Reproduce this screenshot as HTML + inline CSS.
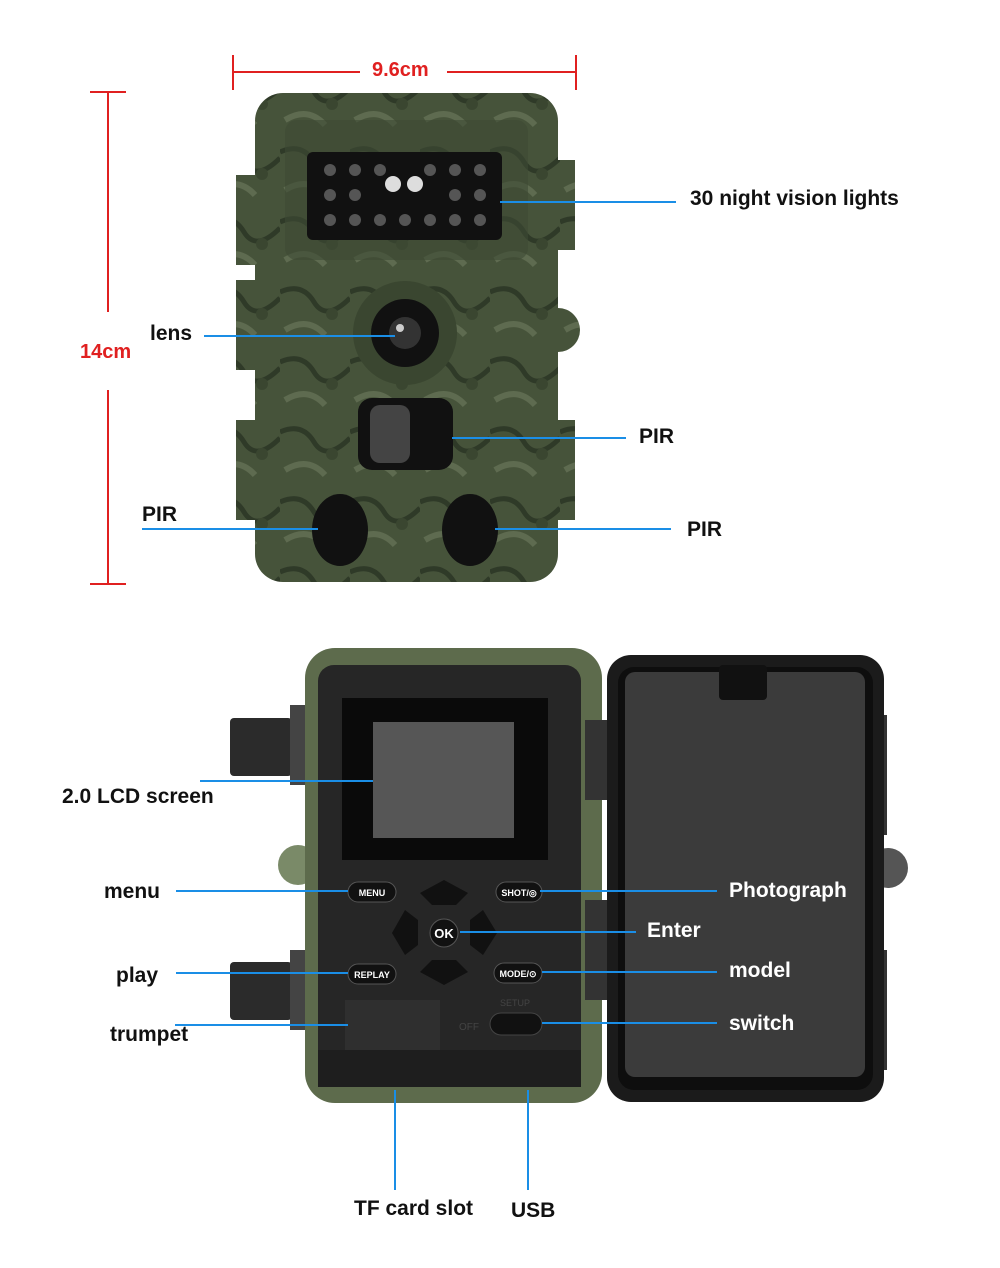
<!DOCTYPE html>
<html><head><style>
body{margin:0;width:1000px;height:1268px;background:#fff;position:relative;overflow:hidden;font-family:"Liberation Sans",sans-serif}
.l{position:absolute;font-weight:bold;font-size:21px;color:#111}
.w{color:#fff}
</style></head><body>
<svg width="1000" height="1268" style="position:absolute;left:0;top:0">
<defs>
<pattern id="cam" width="70" height="70" patternUnits="userSpaceOnUse">
<rect width="70" height="70" fill="#46533a"/>
<path d="M0 12 Q22 2 34 22 T70 18" stroke="#2f3a28" stroke-width="5" fill="none"/>
<path d="M5 50 Q28 36 45 55" stroke="#5e6b50" stroke-width="6" fill="none"/>
<circle cx="52" cy="34" r="6" fill="#3a4630"/>
</pattern>
</defs>
<!-- dimension lines -->
<g stroke="#e02020" stroke-width="2">
<line x1="233" y1="55" x2="233" y2="90"/><line x1="576" y1="55" x2="576" y2="90"/>
<line x1="233" y1="72" x2="360" y2="72"/><line x1="447" y1="72" x2="576" y2="72"/>
<line x1="90" y1="92" x2="126" y2="92"/><line x1="90" y1="584" x2="126" y2="584"/>
<line x1="108" y1="92" x2="108" y2="312"/><line x1="108" y1="390" x2="108" y2="584"/>
</g>
<!-- top camera -->
<rect x="236" y="175" width="30" height="90" fill="url(#cam)"/>
<rect x="236" y="280" width="30" height="90" fill="url(#cam)"/>
<rect x="236" y="420" width="30" height="100" fill="url(#cam)"/>
<rect x="545" y="160" width="30" height="90" fill="url(#cam)"/>
<rect x="545" y="420" width="30" height="100" fill="url(#cam)"/>
<circle cx="558" cy="330" r="22" fill="url(#cam)"/>
<rect x="255" y="93" width="303" height="489" rx="28" fill="url(#cam)"/>
<rect x="285" y="120" width="243" height="140" rx="12" fill="#3d4a33" opacity=".6"/>
<rect x="307" y="152" width="195" height="88" rx="6" fill="#111"/>
<g fill="#555">
<circle cx="330" cy="170" r="6"/><circle cx="355" cy="170" r="6"/><circle cx="380" cy="170" r="6"/><circle cx="430" cy="170" r="6"/><circle cx="455" cy="170" r="6"/><circle cx="480" cy="170" r="6"/>
<circle cx="330" cy="195" r="6"/><circle cx="355" cy="195" r="6"/><circle cx="455" cy="195" r="6"/><circle cx="480" cy="195" r="6"/>
<circle cx="330" cy="220" r="6"/><circle cx="355" cy="220" r="6"/><circle cx="380" cy="220" r="6"/><circle cx="405" cy="220" r="6"/><circle cx="430" cy="220" r="6"/><circle cx="455" cy="220" r="6"/><circle cx="480" cy="220" r="6"/>
</g>
<circle cx="393" cy="184" r="8" fill="#ddd"/><circle cx="415" cy="184" r="8" fill="#ddd"/>
<circle cx="405" cy="333" r="52" fill="#3a4630"/>
<circle cx="405" cy="333" r="34" fill="#111"/>
<circle cx="405" cy="333" r="16" fill="#333"/>
<circle cx="400" cy="328" r="4" fill="#ccc"/>
<rect x="358" y="398" width="95" height="72" rx="14" fill="#111"/>
<rect x="370" y="405" width="40" height="58" rx="10" fill="#444"/>
<ellipse cx="340" cy="530" rx="28" ry="36" fill="#111"/>
<ellipse cx="470" cy="530" rx="28" ry="36" fill="#111"/>
<!-- bottom back -->
<rect x="230" y="718" width="62" height="58" rx="4" fill="#2b2b2b"/>
<rect x="230" y="962" width="62" height="58" rx="4" fill="#2b2b2b"/>
<circle cx="298" cy="865" r="20" fill="#7a8a68"/>
<rect x="290" y="705" width="15" height="80" fill="#444"/>
<rect x="290" y="950" width="15" height="80" fill="#444"/>
<rect x="305" y="648" width="297" height="455" rx="30" fill="#5d6b4c"/>
<rect x="318" y="665" width="263" height="422" rx="16" fill="#262626"/>
<rect x="342" y="698" width="206" height="162" fill="#0a0a0a"/>
<rect x="373" y="722" width="141" height="116" fill="#565656"/>
<rect x="318" y="1050" width="263" height="37" fill="#1e1e1e"/>
<rect x="348" y="882" width="48" height="20" rx="10" fill="#111" stroke="#555"/>
<rect x="496" y="882" width="46" height="20" rx="10" fill="#111" stroke="#555"/>
<rect x="348" y="964" width="48" height="20" rx="10" fill="#111" stroke="#555"/>
<rect x="494" y="963" width="48" height="20" rx="10" fill="#111" stroke="#555"/>
<path d="M420 893 L444 880 L468 893 L456 905 L432 905Z" fill="#111"/>
<path d="M420 972 L444 985 L468 972 L456 960 L432 960Z" fill="#111"/>
<path d="M405 910 L392 933 L405 955 L418 945 L418 920Z" fill="#111"/>
<path d="M483 910 L497 933 L483 955 L470 945 L470 920Z" fill="#111"/>
<circle cx="444" cy="933" r="14" fill="#111" stroke="#555"/>
<g fill="#fff" font-family="Liberation Sans" font-weight="bold">
<text x="372" y="896" font-size="9" text-anchor="middle">MENU</text>
<text x="519" y="896" font-size="9" text-anchor="middle">SHOT/◎</text>
<text x="372" y="978" font-size="9" text-anchor="middle">REPLAY</text>
<text x="518" y="977" font-size="9" text-anchor="middle">MODE/⊙</text>
<text x="444" y="938" font-size="13" text-anchor="middle">OK</text>
</g>
<rect x="345" y="1000" width="95" height="50" fill="#2f2f2f"/>
<rect x="490" y="1013" width="52" height="22" rx="11" fill="#111" stroke="#444"/>
<text x="459" y="1030" font-size="10" fill="#444" font-family="Liberation Sans">OFF</text>
<text x="500" y="1006" font-size="9" fill="#444" font-family="Liberation Sans">SETUP</text>
<!-- door -->
<rect x="585" y="720" width="25" height="80" fill="#333"/>
<rect x="585" y="900" width="25" height="100" fill="#333"/>
<circle cx="888" cy="868" r="20" fill="#555"/>
<rect x="875" y="715" width="12" height="120" fill="#333"/>
<rect x="875" y="950" width="12" height="120" fill="#333"/>
<rect x="607" y="655" width="277" height="447" rx="24" fill="#1b1b1b"/>
<rect x="618" y="667" width="255" height="423" rx="16" fill="#0e0e0e"/>
<rect x="625" y="672" width="240" height="405" rx="10" fill="#3b3b3b"/>
<rect x="719" y="665" width="48" height="35" rx="4" fill="#111"/>
<!-- blue lines -->
<g stroke="#1a8ee6" stroke-width="2">
<line x1="500" y1="202" x2="676" y2="202"/>
<line x1="204" y1="336" x2="395" y2="336"/>
<line x1="452" y1="438" x2="626" y2="438"/>
<line x1="142" y1="529" x2="318" y2="529"/>
<line x1="495" y1="529" x2="671" y2="529"/>
<line x1="200" y1="781" x2="373" y2="781"/>
<line x1="176" y1="891" x2="348" y2="891"/>
<line x1="540" y1="891" x2="717" y2="891"/>
<line x1="460" y1="932" x2="636" y2="932"/>
<line x1="176" y1="973" x2="348" y2="973"/>
<line x1="542" y1="972" x2="717" y2="972"/>
<line x1="175" y1="1025" x2="348" y2="1025"/>
<line x1="542" y1="1023" x2="717" y2="1023"/>
<line x1="395" y1="1090" x2="395" y2="1190"/>
<line x1="528" y1="1090" x2="528" y2="1190"/>
</g>
</svg>
<div class="l" style="left:372px;top:59px;color:#e02020;font-size:20px">9.6cm</div>
<div class="l" style="left:80px;top:341px;color:#e02020;font-size:20px">14cm</div>
<div class="l" style="left:690px;top:187px">30 night vision lights</div>
<div class="l" style="left:150px;top:322px">lens</div>
<div class="l" style="left:639px;top:425px">PIR</div>
<div class="l" style="left:142px;top:503px">PIR</div>
<div class="l" style="left:687px;top:518px">PIR</div>
<div class="l" style="left:62px;top:785px">2.0 LCD screen</div>
<div class="l" style="left:104px;top:880px">menu</div>
<div class="l w" style="left:729px;top:879px">Photograph</div>
<div class="l w" style="left:647px;top:919px">Enter</div>
<div class="l" style="left:116px;top:964px">play</div>
<div class="l w" style="left:729px;top:959px">model</div>
<div class="l" style="left:110px;top:1023px">trumpet</div>
<div class="l w" style="left:729px;top:1012px">switch</div>
<div class="l" style="left:354px;top:1197px">TF card slot</div>
<div class="l" style="left:511px;top:1199px">USB</div>
</body></html>
